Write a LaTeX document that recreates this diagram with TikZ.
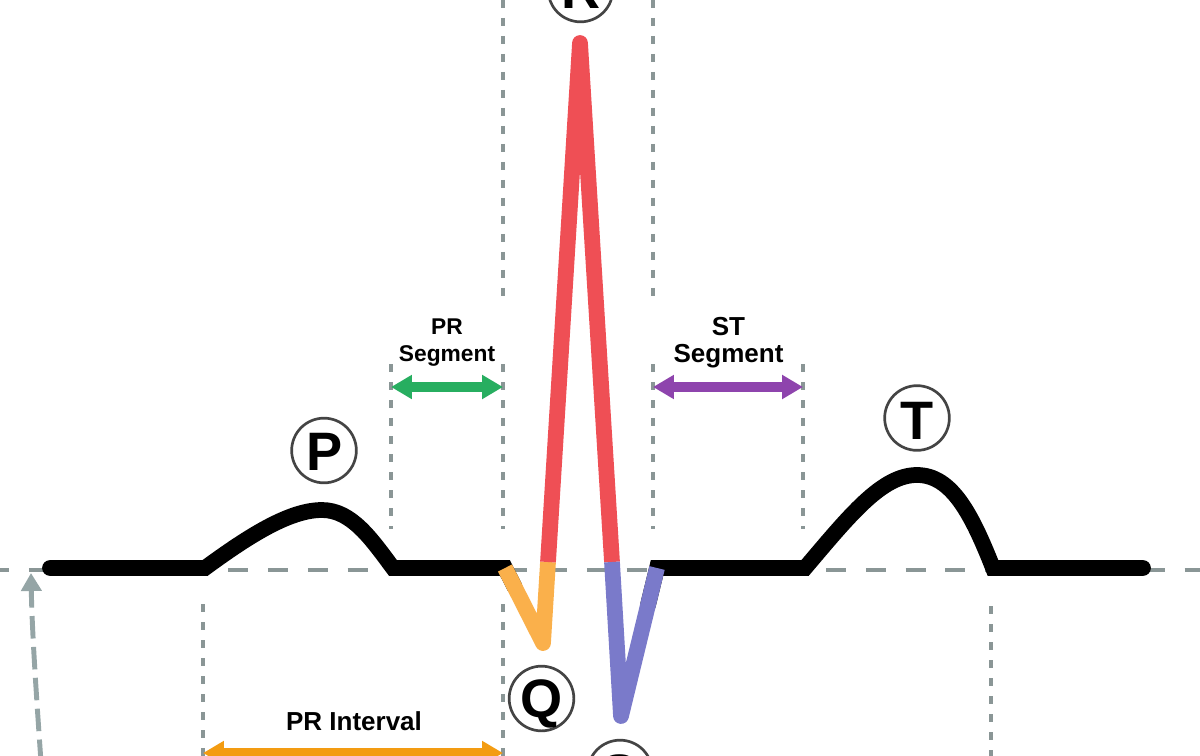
\documentclass[tikz,border=0pt]{standalone}
\usepackage{fontspec}
\setmainfont{Liberation Sans}
\usetikzlibrary{arrows.meta,calc}
\definecolor{basegray}{HTML}{8A9696}
\definecolor{arrgray}{HTML}{95A5A6}
\definecolor{rred}{HTML}{EF4F55}
\definecolor{qorange}{HTML}{FAB04B}
\definecolor{sblue}{HTML}{7A7ACA}
\definecolor{sgreen}{HTML}{27AE60}
\definecolor{spurple}{HTML}{8E44AD}
\definecolor{iorange}{HTML}{F39C12}
\definecolor{ringgray}{HTML}{444444}
\begin{document}
\begin{tikzpicture}[x=0.025cm,y=-0.025cm,
  blacktrace/.style={line width=11.2pt, line cap=round, line join=miter},
  colortrace/.style={line width=11.2pt, line cap=butt, line join=round},
  guide/.style={basegray, line width=2.2pt, dash pattern=on 5.6pt off 7.2pt},
  segarrow/.style={line width=6.8pt, {Triangle[length=14.9pt,width=16.3pt]}-{Triangle[length=14.9pt,width=16.3pt]}},
  ring/.style={circle, draw=ringgray, line width=1.9pt, minimum size=46pt, inner sep=0pt},
  wavelabel/.style={font=\fontsize{38.5pt}{40pt}\selectfont\bfseries, inner sep=0pt, anchor=base},
  smalllabel/.style={font=\fontsize{16.2pt}{19pt}\selectfont\bfseries, inner sep=0pt, anchor=base},
  biglabel/.style={font=\fontsize{18.5pt}{19pt}\selectfont\bfseries, inner sep=0pt, anchor=base}
]
\clip (0,0) rectangle (1200,755);
\fill[white] (0,0) rectangle (1200,755);

% baseline
\draw[basegray, line width=2.4pt, dash pattern=on 14.17pt off 14.17pt] (-11,570) -- (1210,570);

% guides
\draw[guide] (503,0) -- (503,300);
\draw[guide] (653,0) -- (653,300);
\draw[guide] (391,364) -- (391,529);
\draw[guide] (503,364) -- (503,529);
\draw[guide] (653,364) -- (653,529);
\draw[guide] (803,364) -- (803,529);
\draw[guide] (203,604) -- (203,760);
\draw[guide] (503,604) -- (503,760);
\draw[guide] (991,606) -- (991,760);

% trace coordinates
\coordinate (t0) at (50,568);
\coordinate (p0) at (205,568);
\coordinate (pp) at (322,510);
\coordinate (p1) at (393,568);
\coordinate (qa) at (505,568);
\coordinate (qb) at (543,643);
\coordinate (ra) at (548,562);
\coordinate (rp) at (580,43);
\coordinate (rb) at (612,562);
\coordinate (sb) at (621,716);
\coordinate (sa) at (657,568);
\coordinate (t1) at (805,568);
\coordinate (tp) at (917,475);
\coordinate (t2) at (993,568);
\coordinate (t3) at (1143,568);

\draw[blacktrace] (t0) -- (p0) .. controls (250,535) and (290,510) .. (pp)
  .. controls (352,510) and (372,540) .. (p1) -- (qa) -- ($(qa)!0.25!(qb)$);
\draw[blacktrace] ($(sa)!0.25!(sb)$) -- (sa) -- (t1) .. controls (850,515) and (882,475) .. (tp)
  .. controls (952,475) and (972,515) .. (t2) -- (t3);
\draw[colortrace, qorange] (qa) -- (qb) -- (ra);
\draw[colortrace, rred] (ra) -- (rp) -- (rb);
\draw[colortrace, sblue] (rb) -- (sb) -- (sa);

% segment arrows
\coordinate (prl) at (391,387);
\coordinate (prr) at (503,387);
\coordinate (stl) at (653,387);
\coordinate (str) at (803,387);
\coordinate (pil) at (203,753);
\coordinate (pir) at (503,753);
\draw[segarrow, sgreen] (prl) -- (prr);
\draw[segarrow, spurple] (stl) -- (str);
\draw[segarrow, iorange] (pil) -- (pir);

\node[smalllabel] (prs1) at (447,334) {PR};
\node[smalllabel] (prs2) at (447,361) {Segment};
\node[biglabel] (sts1) at (728.5,335) {ST};
\node[biglabel] (sts2) at (728.5,362) {Segment};
\node[biglabel] (pri) at (354,730) {PR Interval};

% wave letters
\node[ring] (pc) at (324,450.5) {};
\node[wavelabel] (pl) at (325,470) {P};
\node[ring] (tc) at (917,418) {};
\node[wavelabel] (tl) at (917,439) {T};
\node[ring] (qc) at (541.5,698.5) {};
\node[wavelabel] (ql) at (541.5,717) {Q};
\node[ring] (rc) at (580.5,-10.5) {};
\node[wavelabel] (rl) at (581,9) {R};
\node[ring] (sc) at (620,772.5) {};
\node[wavelabel] (sl) at (620,792) {S};

% gray dashed arrow
\coordinate (ga) at (41,762);
\coordinate (gb) at (31,573);
\draw[arrgray, line width=3.5pt, dash pattern=on 16pt off 6pt, -{Triangle[length=12.8pt,width=14.2pt]}]
  (ga) .. controls (36,690) and (32,630) .. (gb);
\end{tikzpicture}
\end{document}
